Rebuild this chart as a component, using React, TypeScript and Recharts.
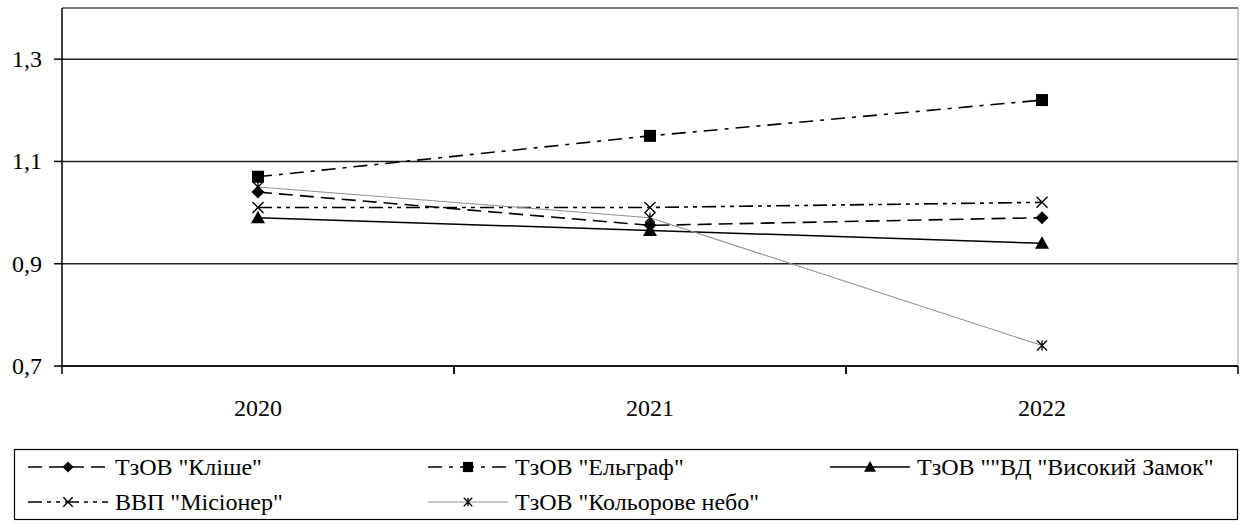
import { LineChart, Line, XAxis, YAxis, CartesianGrid } from "recharts";

const years = ["2020", "2021", "2022"];
const klishe = [1.04, 0.975, 0.99];
const elgraf = [1.07, 1.15, 1.22];
const zamok = [0.99, 0.965, 0.94];
const misioner = [1.01, 1.01, 1.02];
const nebo = [1.05, 0.99, 0.74];
const yTicks = [0.7, 0.9, 1.1, 1.3];

const data = years.map((year, i) => ({
  year,
  klishe: klishe[i],
  elgraf: elgraf[i],
  zamok: zamok[i],
  misioner: misioner[i],
  nebo: nebo[i],
}));

const W = 1240;
const H = 526;
const MARGIN = { top: 8, right: 2, left: 0, bottom: 120 };
const Y_WIDTH = 62;
const FONT = "Liberation Serif, DejaVu Serif";
const textStyle = { fontFamily: FONT, fontSize: 24 };

type Shape = "diamond" | "square" | "triangle" | "cross" | "star";

function Marker({ shape, cx, cy, s = 1 }: { shape: Shape; cx: number; cy: number; s?: number }) {
  if (shape === "diamond") {
    const r = 6.5 * s;
    return <path d={`M${cx},${cy - r}L${cx + r},${cy}L${cx},${cy + r}L${cx - r},${cy}Z`} fill="#000" />;
  }
  if (shape === "square") {
    const r = 6 * s;
    return <rect x={cx - r} y={cy - r} width={2 * r} height={2 * r} fill="#000" />;
  }
  if (shape === "triangle") {
    const r = 7 * s;
    return <path d={`M${cx},${cy - r}L${cx + r},${cy + r * 0.8}L${cx - r},${cy + r * 0.8}Z`} fill="#000" />;
  }
  if (shape === "cross") {
    const r = 5.5 * s;
    return (
      <path d={`M${cx - r},${cy - r}L${cx + r},${cy + r}M${cx + r},${cy - r}L${cx - r},${cy + r}`} stroke="#000" strokeWidth={1.4} />
    );
  }
  const r = 5 * s;
  return (
    <path
      d={`M${cx - r},${cy - r}L${cx + r},${cy + r}M${cx + r},${cy - r}L${cx - r},${cy + r}M${cx},${cy - r}L${cx},${cy + r}`}
      stroke="#000"
      strokeWidth={1.3}
    />
  );
}

const series: { key: string; name: string; shape: Shape; dash?: string; color: string; width: number }[] = [
  { key: "klishe", name: 'ТзОВ "Кліше"', shape: "diamond", dash: "14 7", color: "#000", width: 1.6 },
  { key: "elgraf", name: 'ТзОВ "Ельграф"', shape: "square", dash: "14 7 4 7", color: "#000", width: 1.6 },
  { key: "zamok", name: 'ТзОВ ""ВД "Високий Замок"', shape: "triangle", color: "#000", width: 1.5 },
  { key: "misioner", name: 'ВВП "Місіонер"', shape: "cross", dash: "14 5 4 5 4 5", color: "#000", width: 1.6 },
  { key: "nebo", name: 'ТзОВ "Кольорове небо"', shape: "star", color: "#8f8f8f", width: 1.1 },
];

const plotWidth = W - MARGIN.left - MARGIN.right - Y_WIDTH;
const band = plotWidth / years.length;

function XTick(props: any) {
  const { x, y, payload } = props;
  return (
    <g>
      <line x1={x - band / 2} x2={x - band / 2} y1={y - 8} y2={y} stroke="#000" strokeWidth={1.5} />
      <line x1={x + band / 2} x2={x + band / 2} y1={y - 8} y2={y} stroke="#000" strokeWidth={1.5} />
      <text x={x} y={y + 42} textAnchor="middle" style={textStyle} fill="#000">
        {payload.value}
      </text>
    </g>
  );
}

function YTick(props: any) {
  const { x, y, payload } = props;
  return (
    <text x={x - 10} y={y + 8} textAnchor="end" style={textStyle} fill="#000">
      {Number(payload.value).toFixed(1).replace(".", ",")}
    </text>
  );
}

function LegendSample({ s, x, y }: { s: (typeof series)[number]; x: number; y: number }) {
  return (
    <g>
      <line
        x1={x}
        x2={x + 80}
        y1={y}
        y2={y}
        stroke={s.color}
        strokeWidth={s.width}
        strokeDasharray={s.dash}
      />
      <Marker shape={s.shape} cx={x + 40} cy={y} s={0.85} />
      <text x={x + 87} y={y + 8} style={textStyle} fill="#000">
        {s.name}
      </text>
    </g>
  );
}

function LegendBox() {
  const cols = [28, 428, 830];
  const rows = [467, 502];
  return (
    <svg width={W} height={H} style={{ position: "absolute", left: 0, top: 0 }}>
      <rect x={14.5} y={449.5} width={1223} height={70} fill="none" stroke="#000" strokeWidth={1.2} />
      {series.map((s, i) => (
        <LegendSample key={s.key} s={s} x={cols[i % 3]} y={rows[Math.floor(i / 3)]} />
      ))}
    </svg>
  );
}

export default function App() {
  return (
    <div style={{ position: "absolute", left: 0, top: 0, width: W, height: H, background: "#fff", fontFamily: FONT }}>
      <LineChart width={W} height={H} data={data} margin={MARGIN}>
        <CartesianGrid vertical={false} stroke="#222" strokeWidth={1.5} />
        <CartesianGrid
          stroke="#9a9a9a"
          strokeWidth={1}
          horizontalCoordinatesGenerator={({ offset }: any) => [offset.top]}
          verticalCoordinatesGenerator={({ offset }: any) => [offset.left + offset.width]}
        />
        <XAxis
          dataKey="year"
          scale="band"
          axisLine={{ stroke: "#000", strokeWidth: 1.5 }}
          tickLine={false}
          tick={<XTick />}
          height={40}
          interval={0}
        />
        <YAxis
          domain={[0.7, 1.4]}
          ticks={yTicks}
          width={Y_WIDTH}
          axisLine={{ stroke: "#000", strokeWidth: 1.5 }}
          tickLine={{ stroke: "#000", strokeWidth: 1.5 }}
          tickSize={8}
          tick={<YTick />}
        />
        {series.map((s) => (
          <Line
            key={s.key}
            dataKey={s.key}
            name={s.name}
            stroke={s.color}
            strokeWidth={s.width}
            strokeDasharray={s.dash}
            isAnimationActive={false}
            dot={(p: any) => <Marker key={`${s.key}-${p.index}`} shape={s.shape} cx={p.cx} cy={p.cy} />}
            activeDot={false}
          />
        ))}
      </LineChart>
      <LegendBox />
    </div>
  );
}
